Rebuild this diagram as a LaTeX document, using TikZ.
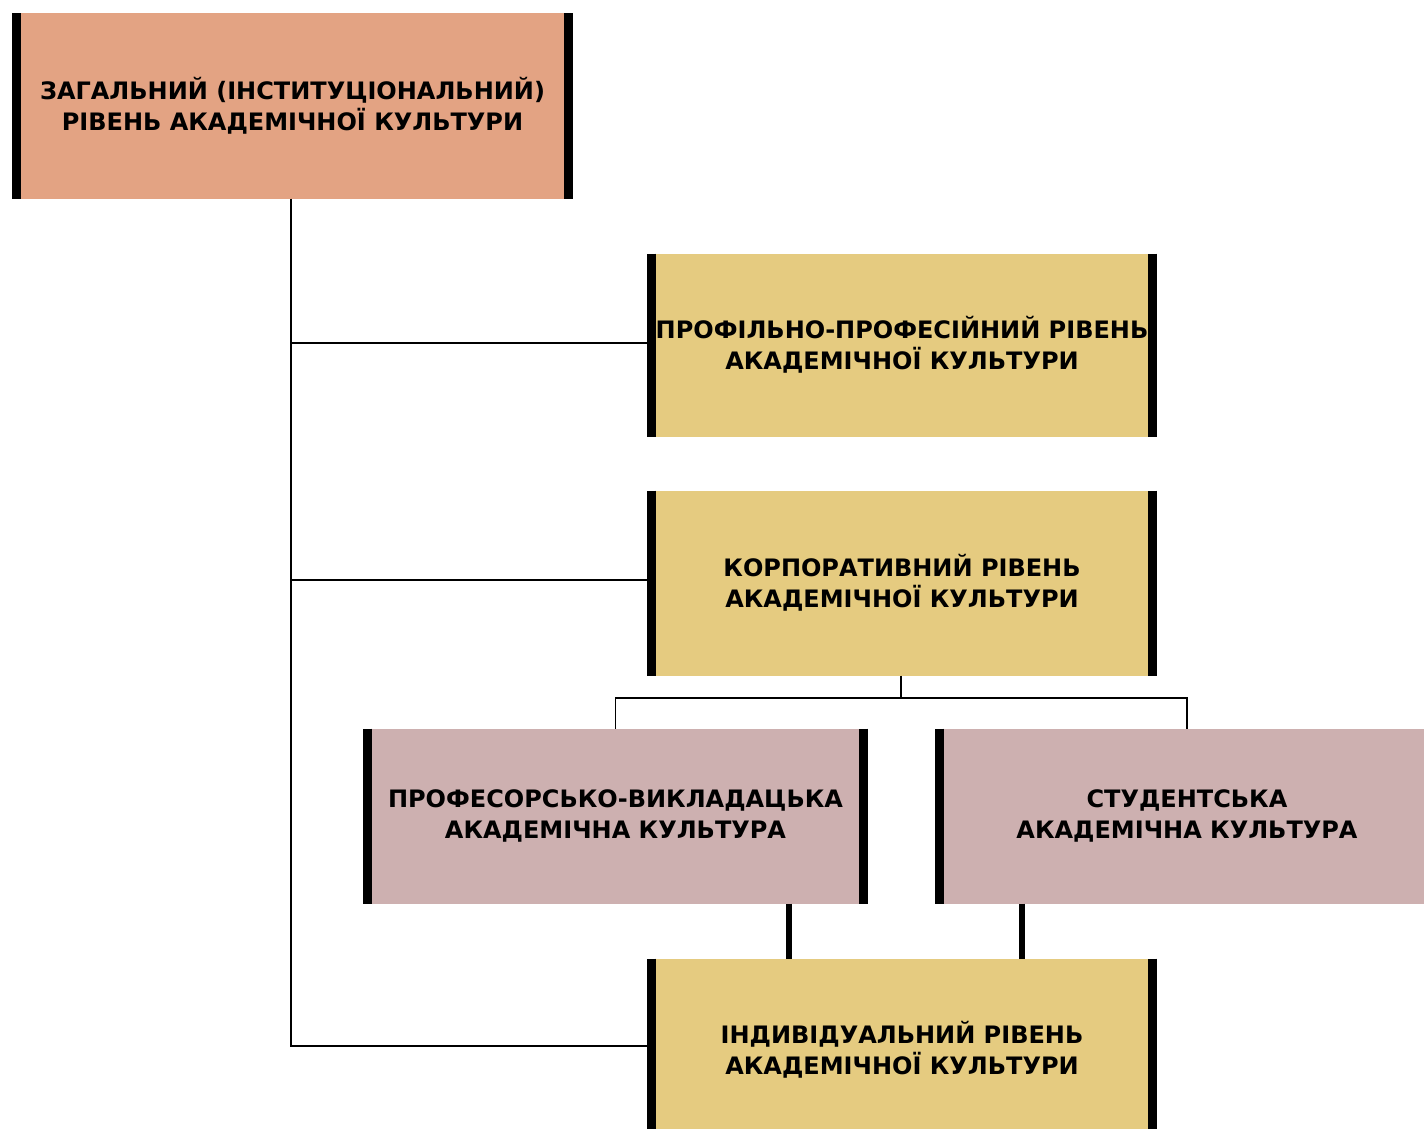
\documentclass[tikz,border=0pt]{standalone}
\usepackage{fontspec}
\setmainfont{DejaVu Sans}
\definecolor{salmon}{HTML}{E3A383}
\definecolor{gold}{HTML}{E5CB80}
\definecolor{rose}{HTML}{CDB0B0}
\begin{document}
\begin{tikzpicture}[x=1pt,y=-1pt,
  box/.style={rectangle, inner sep=0pt, outer sep=0pt, align=center,
    font=\fontsize{24}{31}\selectfont\bfseries},
  bar/.style={line width=9pt},
  thin/.style={line width=1.8pt},
  thick/.style={line width=6pt}]
\useasboundingbox (0,0) rectangle (1424,1129);
\clip (0,0) rectangle (1424,1129);
\node[box, fill=salmon, minimum width=561pt, minimum height=185pt] (top) at (292.5,106)
  {ЗАГАЛЬНИЙ (ІНСТИТУЦІОНАЛЬНИЙ)\\РІВЕНЬ АКАДЕМІЧНОЇ КУЛЬТУРИ};
\node[box, fill=gold, minimum width=510pt, minimum height=183pt] (prof) at (902,345)
  {ПРОФІЛЬНО-ПРОФЕСІЙНИЙ РІВЕНЬ\\АКАДЕМІЧНОЇ КУЛЬТУРИ};
\node[box, fill=gold, minimum width=510pt, minimum height=185pt] (corp) at (902,583)
  {КОРПОРАТИВНИЙ РІВЕНЬ\\АКАДЕМІЧНОЇ КУЛЬТУРИ};
\node[box, fill=rose, minimum width=505pt, minimum height=175pt] (teach) at (615.5,816)
  {ПРОФЕСОРСЬКО-ВИКЛАДАЦЬКА\\АКАДЕМІЧНА КУЛЬТУРА};
\node[box, fill=rose, minimum width=504pt, minimum height=175pt] (stud) at (1187,816)
  {СТУДЕНТСЬКА\\АКАДЕМІЧНА КУЛЬТУРА};
\node[box, fill=gold, minimum width=510pt, minimum height=183pt] (ind) at (902,1050)
  {ІНДИВІДУАЛЬНИЙ РІВЕНЬ\\АКАДЕМІЧНОЇ КУЛЬТУРИ};
% side bars
\foreach \n in {top,prof,corp,teach,stud,ind}{
  \draw[bar] ([xshift=4.5pt]\n.north west) -- ([xshift=4.5pt]\n.south west);
  \draw[bar] ([xshift=-4.5pt]\n.north east) -- ([xshift=-4.5pt]\n.south east);
}
% trunk
\coordinate (t0) at (291,197);
\coordinate (t1) at (291,343);
\coordinate (t2) at (291,580);
\coordinate (t3) at (291,1046);
\draw[thin] (top.south -| t0) -- (t3) -- (ind.west |- t3);
\draw[thin] (t1) -- (prof.west |- t1);
\draw[thin] (t2) -- (corp.west |- t2);
% corporate branch
\coordinate (b0) at (901,698);
\draw[thin] (corp.south -| b0) -- (b0);
\draw[thin] (teach.north) -- (teach.north |- b0) -- (stud.north |- b0) -- (stud.north);
% thick connectors
\coordinate (c1) at (789,0);
\coordinate (c2) at (1022,0);
\draw[thick] (teach.south -| c1) -- (ind.north -| c1);
\draw[thick] (stud.south -| c2) -- (ind.north -| c2);
\end{tikzpicture}
\end{document}
